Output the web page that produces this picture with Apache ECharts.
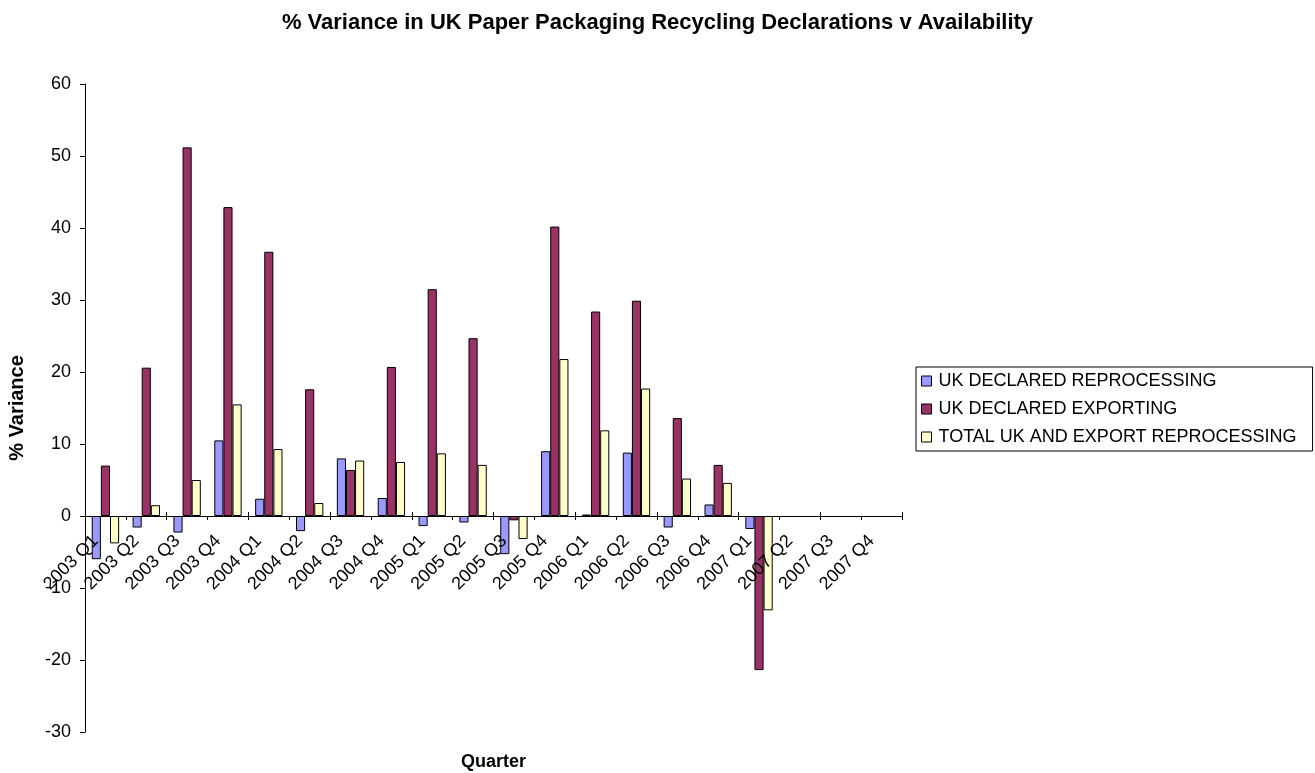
<!DOCTYPE html>
<html>
<head>
<meta charset="utf-8">
<script src="https://cdn.jsdelivr.net/npm/echarts@6/dist/echarts.min.js"></script>
<style>
  html, body { margin: 0; padding: 0; background: #fff; }
  #chart { width: 1315px; height: 773px; }
</style>
</head>
<body>
<div id="chart"></div>
<script>
// Quarters on the category axis
const quarters = [
  '2003 Q1', '2003 Q2', '2003 Q3', '2003 Q4',
  '2004 Q1', '2004 Q2', '2004 Q3', '2004 Q4',
  '2005 Q1', '2005 Q2', '2005 Q3', '2005 Q4',
  '2006 Q1', '2006 Q2', '2006 Q3', '2006 Q4',
  '2007 Q1', '2007 Q2', '2007 Q3', '2007 Q4'
];

// % variance per quarter (null = no data yet)
const ukReprocessing = [
  -6.0, -1.6, -2.3, 10.5,
  2.4, -2.1, 8.0, 2.5,
  -1.4, -0.9, -5.3, 9.0,
  0.2, 8.8, -1.6, 1.6,
  -1.8, null, null, null
];
const ukExporting = [
  7.0, 20.6, 51.2, 42.9,
  36.7, 17.6, 6.4, 20.7,
  31.5, 24.7, -0.6, 40.2,
  28.4, 29.9, 13.6, 7.1,
  -21.4, null, null, null
];
const totalReprocessing = [
  -3.8, 1.5, 5.0, 15.5,
  9.3, 1.8, 7.7, 7.5,
  8.7, 7.1, -3.2, 21.8,
  11.9, 17.7, 5.2, 4.6,
  -13.1, null, null, null
];

const seriesNames = [
  'UK DECLARED REPROCESSING',
  'UK DECLARED EXPORTING',
  'TOTAL UK AND EXPORT REPROCESSING'
];
const seriesColors = ['#9999FF', '#993366', '#FFFFCC'];
const seriesData = [ukReprocessing, ukExporting, totalReprocessing];

const font = 'Arial, "Liberation Sans", sans-serif';
const GRID = { left: 85, right: 413, top: 84, bottom: 41 };
const chart = echarts.init(document.getElementById('chart'), null, { renderer: 'canvas' });

chart.setOption({
  backgroundColor: '#ffffff',
  animation: false,
  textStyle: { fontFamily: font, color: '#000' },
  title: {
    text: '% Variance in UK Paper Packaging Recycling Declarations v Availability',
    left: 'center',
    top: 7,
    textStyle: { fontFamily: font, fontSize: 22, fontWeight: 'bold', color: '#000' }
  },
  legend: {
    orient: 'vertical',
    left: 916,
    top: 367,
    padding: [5, 16, 5, 5],
    itemGap: 10,
    itemWidth: 10,
    itemHeight: 10,
    borderColor: '#000',
    borderWidth: 1,
    icon: 'rect',
    itemStyle: { borderColor: '#000', borderWidth: 1 },
    textStyle: { fontFamily: font, fontSize: 18, color: '#000', padding: [0, 0, 0, 2] },
    data: seriesNames
  },
  grid: Object.assign({ outerBoundsMode: 'none' }, GRID),
  xAxis: [{
    type: 'category',
    data: quarters,
    z: 5,
    name: 'Quarter',
    nameLocation: 'middle',
    nameGap: 237,
    nameTextStyle: { fontFamily: font, fontSize: 18, fontWeight: 'bold', color: '#000' },
    axisLine: { onZero: false, lineStyle: { color: '#000', width: 1 } },
    axisTick: { show: true, length: 4, lineStyle: { color: '#000' } },
    axisLabel: {
      rotate: 45, fontFamily: font, fontSize: 18, color: '#000',
      margin: 25, interval: 0, verticalAlign: 'bottom', padding: [0, 5, 0, 0]
    },
    splitLine: { show: false }
  }, {
    // upper half of the crossing tick marks on the zero line
    type: 'category',
    data: quarters,
    position: 'bottom',
    axisLine: { onZero: false, show: false },
    axisTick: { show: true, inside: true, length: 4, lineStyle: { color: '#000' } },
    axisLabel: { show: false },
    splitLine: { show: false }
  }],
  yAxis: {
    type: 'value',
    min: -30,
    max: 60,
    interval: 10,
    name: '% Variance',
    nameLocation: 'middle',
    nameGap: 58,
    nameRotate: 90,
    nameTextStyle: { fontFamily: font, fontSize: 20, fontWeight: 'bold', color: '#000' },
    axisLine: { show: true, lineStyle: { color: '#000', width: 1 } },
    axisTick: { show: true, length: 5, lineStyle: { color: '#000' } },
    axisLabel: { fontFamily: font, fontSize: 18, color: '#000', margin: 14 },
    splitLine: { show: false }
  },
  series: seriesNames.map((name, i) => ({
    name: name,
    type: 'bar',
    data: seriesData[i],
    barGap: '0%',
    barCategoryGap: '33%',
    itemStyle: { color: seriesColors[i], borderColor: '#000', borderWidth: 1 }
  }))
});

// Lift the category axis (line, ticks, labels) up to the zero line of the value axis
const zeroY = chart.convertToPixel({ yAxisIndex: 0 }, 0);
const gridBottomY = chart.getHeight() - GRID.bottom;
const lift = zeroY - gridBottomY;
chart.setOption({
  xAxis: [
    { offset: lift },
    { offset: lift }
  ]
});
</script>
</body>
</html>
